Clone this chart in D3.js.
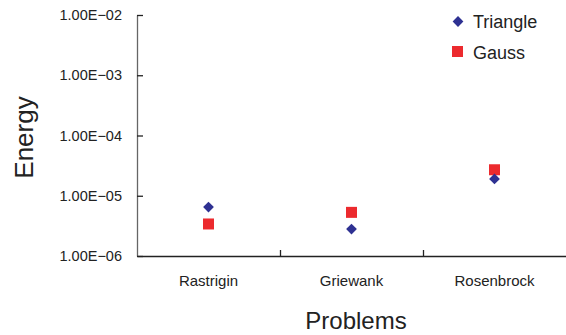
<!DOCTYPE html>
<html>
<head>
<meta charset="utf-8">
<script src="https://cdn.jsdelivr.net/npm/d3@7"></script>
<style>
  body { margin: 0; background: #fff; }
  text { font-family: "Liberation Sans", Arial, sans-serif; fill: #222; }
</style>
</head>
<body>
<svg width="566" height="335"></svg>
<script>
// chart values
var problems = ['Rastrigin', 'Griewank', 'Rosenbrock'];
var triangle = [6.5e-6, 2.8e-6, 1.9e-5];
var gauss = [3.4e-6, 5.3e-6, 2.7e-5];
var yTicks = [1e-6, 1e-5, 1e-4, 1e-3, 1e-2];
var yTickLabels = ['1.00E\u221206', '1.00E\u221205', '1.00E\u221204', '1.00E\u221203', '1.00E\u221202'];

var svg = d3.select('svg');
var padding = {t: 15, r: 0, b: 79, l: 137};
var width = 566 - padding.l - padding.r;
var height = 335 - padding.t - padding.b;

var plot = svg.append('g')
    .attr('transform', 'translate(' + [padding.l, padding.t] + ')');

var xScale = d3.scaleBand()
    .domain(problems)
    .range([0, width]);

var yScale = d3.scaleLog()
    .domain([1e-6, 1e-2])
    .range([height, 0]);

// y axis, ticks pointing inward
var yAxis = d3.axisLeft(yScale)
    .tickValues(yTicks)
    .tickSizeInner(-6)
    .tickSizeOuter(0)
    .tickPadding(15)
    .tickFormat(function(d, i) { return yTickLabels[i]; });

var gy = plot.append('g').attr('class', 'y axis').call(yAxis);
gy.select('.domain').attr('stroke', '#666').attr('stroke-width', 1.3);
gy.selectAll('.tick line').attr('stroke', '#222').attr('stroke-width', 1.3);
gy.selectAll('.tick text').style('font-size', '14.5px').attr('fill', '#222');

// x axis: category labels, separators between categories
var xAxis = d3.axisBottom(xScale).tickSize(0).tickPadding(19);
var gx = plot.append('g')
    .attr('class', 'x axis')
    .attr('transform', 'translate(0,' + height + ')')
    .call(xAxis);
gx.select('.domain').attr('stroke', '#222').attr('stroke-width', 1.5);
gx.selectAll('.tick text').style('font-size', '15px').attr('fill', '#222');

var sepScale = d3.scaleLinear().domain([0, problems.length]).range([0, width]);
plot.append('g')
    .attr('class', 'x sep')
    .attr('transform', 'translate(0,' + height + ')')
    .call(d3.axisBottom(sepScale).tickValues([1, 2]).tickSize(-6).tickFormat(''))
    .call(function(g) { g.select('.domain').remove(); })
    .selectAll('.tick line').attr('stroke', '#222').attr('stroke-width', 1.3);

var diamond = d3.symbol().type(d3.symbolDiamond2).size(74);
var cx = function(i) { return xScale(problems[i]) + xScale.bandwidth() / 2; };

plot.selectAll('.gauss')
    .data(gauss)
    .enter()
    .append('rect')
    .attr('class', 'gauss')
    .attr('x', function(d, i) { return cx(i) - 5.5; })
    .attr('y', function(d) { return yScale(d) - 5.5; })
    .attr('width', 11)
    .attr('height', 11)
    .attr('fill', '#ec2a2e');

plot.selectAll('.triangle')
    .data(triangle)
    .enter()
    .append('path')
    .attr('class', 'triangle')
    .attr('d', diamond)
    .attr('transform', function(d, i) { return 'translate(' + [cx(i), yScale(d)] + ')'; })
    .attr('fill', '#2e3192');

// legend
var legend = svg.append('g').attr('transform', 'translate(458,21.5)');
legend.append('path')
    .attr('d', diamond)
    .attr('fill', '#2e3192');
legend.append('text')
    .attr('x', 15).attr('y', 6.3)
    .style('font-size', '18px')
    .text('Triangle');
legend.append('rect')
    .attr('x', -6).attr('y', 24.5)
    .attr('width', 11).attr('height', 11)
    .attr('fill', '#ec2a2e');
legend.append('text')
    .attr('x', 15).attr('y', 37)
    .style('font-size', '18px')
    .text('Gauss');

// axis titles
svg.append('text')
    .attr('transform', 'translate(' + [33, 137.5] + ') rotate(270)')
    .attr('text-anchor', 'middle')
    .style('font-size', '26px')
    .text('Energy');
svg.append('text')
    .attr('x', 356)
    .attr('y', 329)
    .attr('text-anchor', 'middle')
    .style('font-size', '24px')
    .text('Problems');
</script>
</body>
</html>
